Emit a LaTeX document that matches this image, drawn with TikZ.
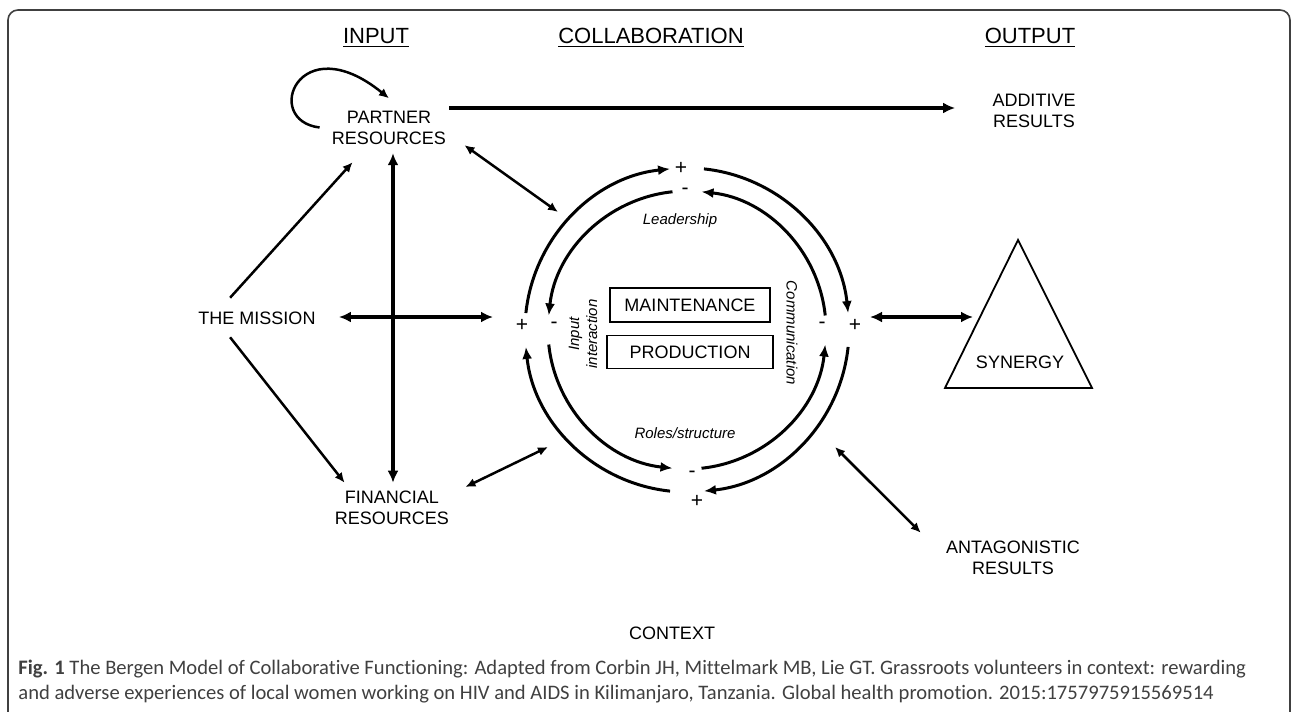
\documentclass[tikz,border=0pt]{standalone}
\usepackage{fontspec}
\setmainfont{Liberation Sans}
\newfontfamily\capfont[Ligatures=NoCommon]{Carlito}
\usepackage{tikz}
\usetikzlibrary{arrows.meta, calc}
\tikzset{every picture/.style={x=0.5pt,y=0.5pt,every node/.style={font=\fontsize{9}{10.5}\selectfont, align=center, inner sep=1pt}}}
\tikzset{
  head/.style={font=\fontsize{11}{13}\selectfont},
  boxnode/.style={draw, line width=0.9pt},
  lbl/.style={font=\fontsize{7.5}{9}\selectfont\itshape},
  sgn/.style={font=\fontsize{10.5}{12}\selectfont, inner sep=0pt},
  capnode/.style={font=\capfont\fontsize{10.3}{12}\selectfont, text=black!75, inner sep=0pt, align=left},
  one/.style={line width=1.25pt, -{Latex[length=5pt,width=4.5pt]}},
  two/.style={line width=1.25pt, {Latex[length=5pt,width=4.5pt]}-{Latex[length=5pt,width=4.5pt]}},
  bigone/.style={line width=2pt, -{Latex[length=6pt,width=5.5pt]}},
  bigtwo/.style={line width=2pt, {Latex[length=6pt,width=5.5pt]}-{Latex[length=6pt,width=5.5pt]}},
  ringarr/.style={line width=1.5pt, -{Latex[length=6pt,width=5pt]}}
}

\begin{document}
\begin{tikzpicture}
        \useasboundingbox (0,0) rectangle (1292,-712);
        \clip (0,0) rectangle (1292,-712);
        \draw[line width=0.8pt, draw=black!75, rounded corners=5pt] (8,-10) rectangle (1290,-760);

        % column heads
        \node[head] (hin) at (376,-38) {\underline{INPUT}};
        \node[head] (hcol) at (651,-38) {\underline{COLLABORATION}};
        \node[head] (hout) at (1030,-38) {\underline{OUTPUT}};

        \node[] (partner) at (389,-127.5) {PARTNER\\RESOURCES};
        \node[] (additive) at (1034,-111) {ADDITIVE\\RESULTS};
        \node[] (mission) at (257,-318) {THE MISSION};
        \node[] (financial) at (392,-507.5) {FINANCIAL\\RESOURCES};
        \node[] (antag) at (1013,-557.5) {ANTAGONISTIC\\RESULTS};
        \node[] (context) at (672,-633) {CONTEXT};

        % collaboration ring
        \coordinate (ctr) at (687,-330);
        \node[boxnode, minimum width=80pt, minimum height=17pt] (maint) at (690,-305) {MAINTENANCE};
        \node[boxnode, minimum width=83pt, minimum height=16.5pt] (prod) at (690,-352) {PRODUCTION};
        \node[lbl] (lead) at (680,-221) {Leadership};
        \node[lbl] (roles) at (685,-433) {Roles/structure};
        \node[lbl, rotate=90] (inter) at (583,-334) {Input\\interaction};
        \node[lbl, rotate=-90] (comm) at (792,-333) {Communication};
        \foreach \a in {0,90,180,270} {
          \draw[ringarr] ($(ctr)+(\a+84:81pt)$) arc[start angle=\a+84, end angle=\a+6, radius=81pt];
          \draw[ringarr] ($(ctr)+(\a+6:69.5pt)$) arc[start angle=\a+6, end angle=\a+84, radius=69.5pt];
        }
        \node[sgn] (ptop) at (681,-168) {+};
        \node[sgn] (mtop) at (685,-191) {-};
        \node[sgn] (pleft) at (522,-325) {+};
        \node[sgn] (mleft) at (554,-325) {-};
        \node[sgn] (mright) at (822,-325) {-};
        \node[sgn] (pright) at (855,-325) {+};
        \node[sgn] (mbot) at (692,-474) {-};
        \node[sgn] (pbot) at (697,-501) {+};

        % synergy
        \coordinate (tA) at (1018,-240);
        \coordinate (tB) at (945,-388);
        \coordinate (tC) at (1092,-388);
        \draw[line width=0.9pt] (tA) -- (tB) -- (tC) -- cycle;
        \node[] (synergy) at (1020,-362) {SYNERGY};

        % connector ends
        \coordinate (pr-a) at ([shift={(1,19.5)}]partner.east);
        \coordinate (ad-p) at ([shift={(-35,3)}]additive.west);
        \coordinate (lp-a) at ([xshift=-5pt]partner.west);
        \coordinate (lp-b) at ([yshift=5pt]partner.north);
        \coordinate (ms-p) at ([shift={(34,11.5)}]mission.north west);
        \coordinate (pr-m) at ([shift={(23,-15.5)}]partner.south west);
        \coordinate (ms-f) at ([shift={(34,-10.5)}]mission.south west);
        \coordinate (fn-m) at ([shift={(12,5.5)}]financial.north west);
        \coordinate (ms-c) at ([shift={(21,1)}]mission.east);
        \coordinate (pr-f) at ([shift={(4,-6.5)}]partner.south);
        \coordinate (fn-p) at ([shift={(1,5.5)}]financial.north);
        \coordinate (pr-c) at ([shift={(16,1.5)}]partner.south east);
        \coordinate (fn-c) at ([shift={(14,20.5)}]financial.east);
        \coordinate (an-c) at ([shift={(-23,5.5)}]antag.north west);
        \coordinate (cw) at (493,-317);
        \coordinate (cnw) at (558,-212);
        \coordinate (csw) at (548,-447);
        \coordinate (ce) at (870,-317);
        \coordinate (cse) at (835,-447);
        \coordinate (syn-w) at (973,-317);

        \draw[one] (lp-a) .. controls +(-58,7) and +(-90,73) .. (lp-b);
        \draw[bigone] (pr-a) -- (ad-p);
        \foreach \from/\to in {ms-p/pr-m, ms-f/fn-m}
        \draw[one] (\from) -- (\to);
        \foreach \from/\to in {pr-c/cnw, fn-c/csw, an-c/cse}
        \draw[two] (\from) -- (\to);
        \foreach \from/\to in {ms-c/cw, pr-f/fn-p, ce/syn-w}
        \draw[bigtwo] (\from) -- (\to);

        % caption
        \node[capnode, anchor=base west] (cap1) at (18,-674) {\textbf{Fig. 1} The Bergen Model of Collaborative Functioning: Adapted from Corbin JH, Mittelmark MB, Lie GT. Grassroots volunteers in context: rewarding};
        \node[capnode, anchor=base west] (cap2) at (18,-699) {and adverse experiences of local women working on HIV and AIDS in Kilimanjaro, Tanzania. Global health promotion. 2015:1757975915569514};
      \end{tikzpicture}
\end{document}
